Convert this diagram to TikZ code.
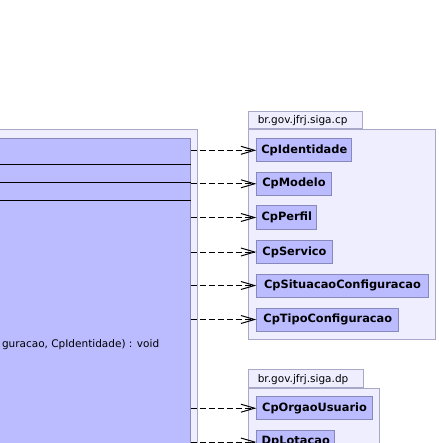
\documentclass[tikz,border=0pt]{standalone}
\usepackage{fontspec}
\setmainfont{DejaVu Sans}
\usetikzlibrary{arrows.meta,positioning}
\definecolor{pkgfill}{RGB}{238,238,255}
\definecolor{pkgline}{RGB}{168,168,200}
\definecolor{clsfill}{RGB}{187,187,255}
\definecolor{clsline}{RGB}{136,136,187}
\begin{document}
\begin{tikzpicture}[x=1pt,y=-1pt,line width=1pt,font=\fontsize{10.5}{12}\selectfont]
  \tikzstyle{pkg body}=[draw=pkgline,fill=pkgfill,inner sep=0,anchor=north west]
  \tikzstyle{pkg tab}=[draw=pkgline,fill=pkgfill,inner sep=0,anchor=south west,minimum height=17.6,text depth=0,align=left]
  \tikzstyle{cls}=[draw=clsline,fill=clsfill,inner sep=0,anchor=north west,minimum height=23,font=\fontsize{11.4}{13}\selectfont\bfseries]
  \tikzstyle{dep}=[draw=black,dash pattern=on 6pt off 3pt,-{Straight Barb[length=13.6pt,width=8pt,line width=1pt]}]
  \useasboundingbox (0,0) rectangle (438,443);
  \clip (0,0) rectangle (438,443);
  % client side
  \node(pkg)[pkg body,anchor=north east,minimum width=400,minimum height=420] at (198.3,129.5){};
  \node(svc)[cls,anchor=north east,minimum width=400,minimum height=420,font=\fontsize{10.5}{12}\selectfont] at (190.7,138.3){};
  \foreach \y in {165,183,201}
    \draw[black] (svc.west |- 0,\y) -- (svc.east |- 0,\y);
  \node(op)[anchor=west,inner sep=0] at (1.5,344.3){guracao, CpIdentidade) : void};
  % br.gov.jfrj.siga.cp
  \node(cpbody)[pkg body,minimum width=186.7,minimum height=209.7] at (248.3,129.3){};
  \node(cptab)[pkg tab,minimum width=114,text width=108] at (248.3,129.3){\hspace*{6pt}br.gov.jfrj.siga.cp};
  \node(ident)[cls,minimum width=95] at (256.3,138.3){CpIdentidade};
  \node(modelo)[cls,minimum width=74.4] at (256.3,171.8){CpModelo};
  \node(perfil)[cls,minimum width=60] at (256.3,205.5){CpPerfil};
  \node(servico)[cls,minimum width=75.4] at (256.3,240){CpServico};
  \node(situacao)[cls,minimum width=171.4] at (256.3,273.5){CpSituacaoConfiguracao};
  \node(tipo)[cls,minimum width=142] at (256.3,307.5){CpTipoConfiguracao};
  % br.gov.jfrj.siga.dp
  \node(dpbody)[pkg body,minimum width=130.7,minimum height=80] at (248.3,387.7){};
  \node(dptab)[pkg tab,minimum width=115,text width=109] at (248.3,387.7){\hspace*{6pt}br.gov.jfrj.siga.dp};
  \node(orgao)[cls,minimum width=115.4] at (256.3,396.2){CpOrgaoUsuario};
  \node(lotacao)[cls,minimum width=78,text height=8,anchor=west] at (256.3,442){DpLotacao};
  % dependencies
  \foreach \n in {ident,modelo,perfil,servico,situacao,tipo,orgao,lotacao}
    \draw[dep] (svc.east |- \n.west) -- (\n.west);
\end{tikzpicture}
\end{document}
